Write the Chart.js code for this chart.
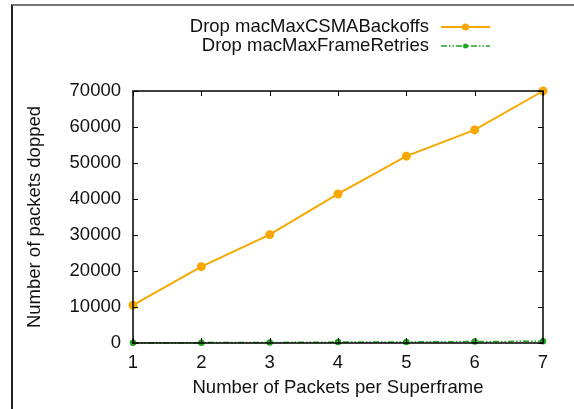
<!DOCTYPE html>
<html>
<head>
<meta charset="utf-8">
<script src="https://cdn.jsdelivr.net/npm/chart.js@4.4.1/dist/chart.umd.min.js"></script>
<style>
  html, body { margin: 0; padding: 0; background: #fff; }
  #wrap { position: relative; width: 574px; height: 409px; }
  #frame { position: absolute; left: 11px; top: 4px; right: 0; bottom: 0;
           border-top: 2px solid #777; border-left: 2px solid #222; }
  canvas { position: absolute; left: 0; top: 0; }
</style>
</head>
<body>
<div id="wrap">
  <div id="frame"></div>
  <canvas id="MyChart" width="574" height="409"></canvas>
</div>
<script>
// data
const packets = [1, 2, 3, 4, 5, 6, 7];
const dropCsma = [10500, 21200, 30100, 41400, 51900, 59200, 70000];
const dropRetries = [50, 100, 150, 250, 300, 400, 500];
const yTicks = [0, 10000, 20000, 30000, 40000, 50000, 60000, 70000];
const seriesNames = ['Drop macMaxCSMABackoffs', 'Drop macMaxFrameRetries'];

const FONT = 'Liberation Sans, Arial, Helvetica, sans-serif';
const FSIZE = 18.5;

const pts = (ys) => packets.map((x, i) => ({ x: x, y: ys[i] }));

// gnuplot style frame with inward ticks on all sides + legend on the right of text
const gnuplotLook = {
  id: 'gnuplotLook',
  afterDatasetsDraw(chart) {
    const ctx = chart.ctx;
    const a = chart.chartArea;
    const xs = chart.scales.x, ys = chart.scales.y;
    ctx.save();
    ctx.strokeStyle = '#000';
    ctx.lineWidth = 1;
    ctx.beginPath();
    yTicks.forEach(v => {
      const py = Math.round(ys.getPixelForValue(v)) + 0.5;
      ctx.moveTo(a.left, py); ctx.lineTo(a.left + 5, py);
      ctx.moveTo(a.right, py); ctx.lineTo(a.right - 5, py);
    });
    packets.forEach(v => {
      const px = Math.round(xs.getPixelForValue(v)) + 0.5;
      ctx.moveTo(px, a.top); ctx.lineTo(px, a.top + 5);
      ctx.moveTo(px, a.bottom); ctx.lineTo(px, a.bottom - 5);
    });
    ctx.stroke();
    ctx.lineWidth = 1.5;
    ctx.strokeRect(a.left, a.top, a.right - a.left, a.bottom - a.top);
    ctx.restore();
  },
  afterDraw(chart) {
    const ctx = chart.ctx;
    ctx.save();
    ctx.font = FSIZE + 'px ' + FONT;
    ctx.textAlign = 'right';
    ctx.textBaseline = 'middle';
    chart.data.datasets.forEach((ds, i) => {
      const y = 27 + i * 19;
      ctx.fillStyle = '#111';
      ctx.fillText(ds.label, 429, y);
      ctx.strokeStyle = ds.borderColor;
      ctx.lineWidth = ds.borderWidth;
      ctx.setLineDash(ds.borderDash || []);
      ctx.beginPath();
      ctx.moveTo(441, y); ctx.lineTo(490, y);
      ctx.stroke();
      ctx.setLineDash([]);
      ctx.fillStyle = ds.pointBackgroundColor;
      ctx.beginPath();
      ctx.arc(465.5, y, ds.pointRadius, 0, Math.PI * 2);
      ctx.fill();
    });
    ctx.restore();
  }
};

new Chart('MyChart', {
  type: 'line',
  data: {
    datasets: [
      {
        label: seriesNames[0],
        data: pts(dropCsma),
        borderColor: '#f7a800',
        backgroundColor: '#f7a800',
        pointBackgroundColor: '#f7a800',
        pointBorderColor: '#f7a800',
        borderWidth: 2,
        pointRadius: 3.5,
        clip: false
      },
      {
        label: seriesNames[1],
        data: pts(dropRetries),
        borderColor: '#1fa51f',
        backgroundColor: '#1fa51f',
        pointBackgroundColor: '#1fa51f',
        pointBorderColor: '#1fa51f',
        borderWidth: 1.5,
        borderDash: [6, 2, 1.5, 2, 1.5, 2],
        pointRadius: 2.5,
        clip: false
      }
    ]
  },
  options: {
    responsive: false,
    animation: false,
    events: [],
    layout: { padding: { left: 20, top: 91, right: 31, bottom: 6 } },
    plugins: { legend: { display: false }, tooltip: { enabled: false } },
    scales: {
      x: {
        type: 'linear',
        min: 1, max: 7,
        afterFit: (s) => { s.height = 60; },
        grid: { display: false, drawTicks: false },
        border: { display: false },
        ticks: { stepSize: 1, padding: 9, color: '#111', font: { family: FONT, size: FSIZE } },
        title: { display: true, text: 'Number of Packets per Superframe', color: '#111',
                 font: { family: FONT, size: FSIZE } }
      },
      y: {
        min: 0, max: 70000,
        afterFit: (s) => { s.width = 113; },
        grid: { display: false, drawTicks: false },
        border: { display: false },
        ticks: { stepSize: 10000, padding: 12, color: '#111', font: { family: FONT, size: FSIZE },
                 callback: (v) => String(v) },
        title: { display: true, text: 'Number of packets dopped', color: '#111',
                 font: { family: FONT, size: FSIZE } }
      }
    }
  },
  plugins: [gnuplotLook]
});
</script>
</body>
</html>
